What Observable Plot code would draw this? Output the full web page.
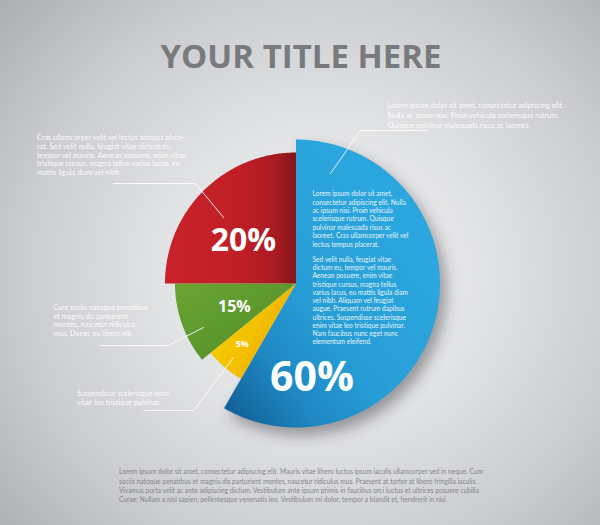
<!DOCTYPE html>
<html><head><meta charset="utf-8">
<script src="https://cdn.jsdelivr.net/npm/d3@7"></script>
<script src="https://cdn.jsdelivr.net/npm/@observablehq/plot@0.6"></script>
<style>
html,body{margin:0;padding:0;}
body{width:600px;height:525px;overflow:hidden;
 background: radial-gradient(ellipse 72% 78% at 54% 52%, #ededef 0%, #e3e4e6 35%, #cbcccf 70%, #adaeb2 100%);}
#chart svg{display:block;}
</style>
</head><body><div id="chart"></div>
<script>
// ---- data ----
const titleText = "YOUR TITLE HERE";
const sliceNames   = ["blue", "yellow", "green", "red"];
const sliceValues  = [60, 5, 15, 20];
const sliceLabels  = ["60%", "5%", "15%", "20%"];
// angular extent of each slice as drawn (degrees clockwise from 12 o'clock)
const sliceStart   = [0, 210, 231, 270];
const sliceEnd     = [210, 231, 270, 360];
const sliceRadius  = [144, 110, 121, 131];
const sliceFill    = ["url(#gBlue)", "url(#gYellow)", "url(#gGreen)", "url(#gRed)"];
const labelAngle   = [170.4, 221.5, 249.1, 309.3];
const labelRadius  = [96, 81, 66, 68];
const labelSize    = [41, 9, 16, 32];
const pieCenter    = [295.5, 283];

const noteTexts = [
  "Lorem ipsum dolor sit amet, consectetur adipiscing elit.\nNulla ac ipsum nisi. Proin vehicula scelerisque rutrum.\nQuisque pulvinar malesuada risus ac laoreet.",
  "Cras ullamcorper velit vel lectus tempus place-\nrat. Sed velit nulla, feugiat vitae dictum eu,\ntempor vel mauris. Aenean posuere, enim vitae\ntristique cursus, magna tellus varius lacus, eu\nmattis ligula diam vel nibh.",
  "Cum sociis natoque penatibus\net magnis dis parturient\nmontes, nascetur ridiculus\nmus. Donec eu libero elit.",
  "Suspendisse scelerisque enim\nvitae leo tristique pulvinar.",
  "Lorem ipsum dolor sit amet,\nconsectetur adipiscing elit. Nulla\nac ipsum nisi. Proin vehicula\nscelerisque rutrum. Quisque\npulvinar malesuada risus ac\nlaoreet. Cras ullamcorper velit vel\nlectus tempus placerat.",
  "Sed velit nulla, feugiat vitae\ndictum eu, tempor vel mauris.\nAenean posuere, enim vitae\ntristique cursus, magna tellus\nvarius lacus, eu mattis ligula diam\nvel nibh. Aliquam vel feugiat\naugue. Praesent rutrum dapibus\nultrices. Suspendisse scelerisque\nenim vitae leo tristique pulvinar.\nNam faucibus nunc eget nunc\nelementum eleifend."
];
const noteX = [387, 36.5, 53, 76.5, 312, 312];
const noteY = [114.5, 154.2, 319.8, 397.2, 218.3, 300];
const noteSize = [7.35, 7.3, 7.2, 7.2, 6.6, 6.6];
const noteLineHeight = [1.33, 1.2, 1.21, 1.25, 1.27, 1.25];

const footerText = "Lorem ipsum dolor sit amet, consectetur adipiscing elit. Mauris vitae libero luctus ipsum iaculis ullamcorper sed in neque. Cum\nsociis natoque penatibus et magnis dis parturient montes, nascetur ridiculus mus. Praesent at tortor at libero fringilla iaculis.\nVivamus porta velit ac ante adipiscing dictum. Vestibulum ante ipsum primis in faucibus orci luctus et ultrices posuere cubilia\nCurae; Nullam a nisl sapien, pellentesque venenatis leo. Vestibulum mi dolor, tempor a blandit et, hendrerit in nisi.";

// callout leader lines
const calloutIds = ["tr","tr","tr","red","red","red","green","green","green","yellow","yellow","yellow"];
const calloutX = [330, 360, 427, 223, 195, 113, 203, 168, 100, 233, 193, 143];
const calloutY = [173, 130, 130, 217, 183, 183, 327, 345, 345, 357, 410, 410];

// ---- build geometry ----
function polar(theta, r) {
  const a = theta * Math.PI / 180;
  return [pieCenter[0] + r * Math.sin(a), pieCenter[1] - r * Math.cos(a)];
}
const sliceRows = sliceNames.map((name, i) => {
  const pts = [{x: pieCenter[0], y: pieCenter[1]}];
  for (const t of d3.range(sliceStart[i], sliceEnd[i] + 0.001, 0.5)) {
    const [x, y] = polar(Math.min(t, sliceEnd[i]), sliceRadius[i]);
    pts.push({x, y});
  }
  pts.push({x: pieCenter[0], y: pieCenter[1]});
  return pts;
});
const labelRows = sliceLabels.map((t, i) => {
  const [x, y] = polar(labelAngle[i], labelRadius[i]);
  return {text: t, x, y, size: labelSize[i], value: sliceValues[i]};
});
const calloutRows = calloutIds.map((id, i) => ({id, x: calloutX[i], y: calloutY[i]}));

const marks = [];
// soft shadow of the big slice
marks.push(Plot.line(sliceRows[0], {x: "x", y: "y", fill: "#3a3b3f", fillOpacity: 0.45, stroke: "none", dx: 6, dy: 8}));
sliceNames.forEach((n, i) => {
  marks.push(Plot.line(sliceRows[i], {x: "x", y: "y", fill: sliceFill[i], stroke: "none"}));
});
marks.push(Plot.line(calloutRows, {x: "x", y: "y", z: "id", stroke: "#ffffff", strokeWidth: 0.9, strokeOpacity: 0.95}));
labelRows.forEach(d => {
  marks.push(Plot.text([d], {x: "x", y: "y", text: "text", fill: "#ffffff", fontSize: d.size, fontWeight: "bold", fontFamily: "Open Sans", textAnchor: "middle", lineAnchor: "middle"}));
});
noteTexts.forEach((t, i) => {
  marks.push(Plot.text([t], {x: () => noteX[i], y: () => noteY[i], text: d => d, fill: "#ffffff", fillOpacity: 0.93, fontSize: noteSize[i], fontFamily: "Lato", textAnchor: "start", lineAnchor: "middle", lineHeight: noteLineHeight[i]}));
});
marks.push(Plot.text([footerText], {x: () => 118.5, y: () => 484.7, text: d => d, fill: "#86878a", fontSize: 6.65, fontFamily: "Lato", textAnchor: "start", lineAnchor: "middle", lineHeight: 1.37}));
marks.push(Plot.text([titleText], {x: () => 300.5, y: () => 57, text: d => d, fill: "#797a7d", fontSize: 33, fontWeight: "bold", fontFamily: "Open Sans", textAnchor: "middle", lineAnchor: "middle"}));

const plot = Plot.plot({
  width: 600, height: 525, margin: 0,
  x: {domain: [0, 600], range: [0, 600], axis: null},
  y: {domain: [0, 525], range: [0, 525], axis: null},
  style: {background: "transparent", overflow: "visible"},
  marks
});

const svg = d3.select(plot);
svg.insert("defs", ":first-child").html(`
  <filter id="blur" x="-30%" y="-30%" width="160%" height="160%"><feGaussianBlur stdDeviation="7"/></filter>
  <linearGradient id="gBlue" x1="0" y1="1" x2="0.75" y2="0.25">
    <stop offset="0" stop-color="#10598f"/>
    <stop offset="0.3" stop-color="#1f88c3"/>
    <stop offset="0.55" stop-color="#279dd6"/>
    <stop offset="1" stop-color="#2ca6de"/>
  </linearGradient>
  <linearGradient id="gRed" x1="0" y1="0" x2="1" y2="0">
    <stop offset="0" stop-color="#c9222a"/>
    <stop offset="0.55" stop-color="#c11f27"/>
    <stop offset="0.85" stop-color="#a81b22"/>
    <stop offset="1" stop-color="#84151a"/>
  </linearGradient>
  <linearGradient id="gGreen" x1="0" y1="0" x2="1" y2="1">
    <stop offset="0" stop-color="#6aa533"/>
    <stop offset="0.6" stop-color="#5a962c"/>
    <stop offset="1" stop-color="#447a21"/>
  </linearGradient>
  <linearGradient id="gYellow" x1="0" y1="0" x2="1" y2="0.6">
    <stop offset="0" stop-color="#f9d400"/>
    <stop offset="0.6" stop-color="#f3c000"/>
    <stop offset="1" stop-color="#e8a200"/>
  </linearGradient>
`);
svg.select('g[aria-label="line"]').attr("filter", "url(#blur)");
document.getElementById("chart").appendChild(plot);
</script>
</body></html>
